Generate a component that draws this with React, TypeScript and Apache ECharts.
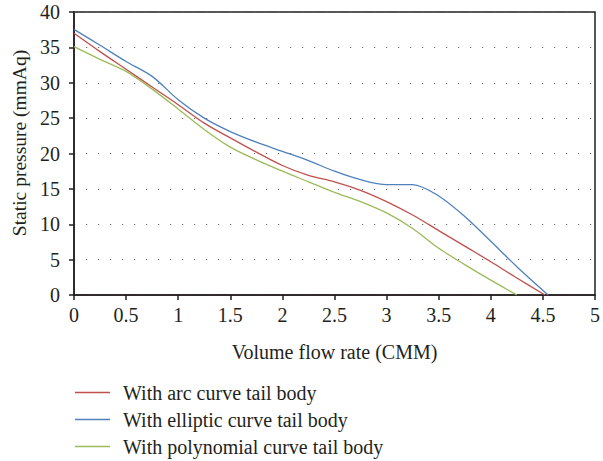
import React, { useEffect, useRef } from "react";
import * as echarts from "echarts";

const xArc = [0, 0.25, 0.5, 0.75, 1.0, 1.25, 1.5, 1.75, 2.0, 2.25, 2.5, 2.75, 3.0, 3.25, 3.5, 3.75, 4.0, 4.25, 4.52];
const yArc = [37.0, 34.4, 31.9, 29.4, 26.9, 24.3, 22.2, 20.2, 18.3, 16.9, 16.0, 14.8, 13.2, 11.3, 9.1, 6.9, 4.7, 2.4, 0];

const xElliptic = [0, 0.25, 0.5, 0.75, 1.0, 1.25, 1.5, 1.75, 2.0, 2.25, 2.5, 2.75, 3.0, 3.25, 3.5, 3.75, 4.0, 4.25, 4.55];
const yElliptic = [37.55, 35.3, 33.0, 30.9, 27.6, 25.0, 23.1, 21.6, 20.3, 19.0, 17.5, 16.3, 15.6, 15.6, 14.0, 11.1, 7.6, 4.0, 0];

const xPoly = [0, 0.25, 0.5, 0.75, 1.0, 1.25, 1.5, 1.75, 2.0, 2.25, 2.5, 2.75, 3.0, 3.25, 3.5, 3.75, 4.0, 4.25];
const yPoly = [35.1, 33.3, 31.6, 29.1, 26.3, 23.4, 20.9, 19.1, 17.5, 16.0, 14.5, 13.2, 11.6, 9.4, 6.6, 4.3, 2.1, 0];

const seriesNames = [
  "With arc curve tail body",
  "With elliptic curve tail body",
  "With polynomial curve tail body",
];
const seriesColors = ["#c0504d", "#4f81bd", "#9bbb59"];

const xTitle = "Volume flow rate (CMM)";
const yTitle = "Static pressure (mmAq)";

const FONT = "'Liberation Serif', 'Times New Roman', serif";
const TEXT = "#231f20";

function pairs(xs: number[], ys: number[]) {
  return xs.map((x, i) => [x, ys[i]]);
}

export default function App() {
  const ref = useRef<HTMLDivElement>(null);
  useEffect(() => {
    if (!ref.current) return;
    const chart = echarts.init(ref.current, undefined, { renderer: "svg" });
    const datasets = [pairs(xArc, yArc), pairs(xElliptic, yElliptic), pairs(xPoly, yPoly)];
    chart.setOption({
      animation: false,
      textStyle: { fontFamily: FONT, color: TEXT },
      grid: {
        left: 74,
        right: 3,
        top: 12,
        bottom: 166,
        show: true,
        borderColor: "#231f20",
        borderWidth: 1.5,
        backgroundColor: "transparent",
        containLabel: false,
      },
      legend: {
        orient: "vertical",
        left: 75,
        top: 379,
        padding: 0,
        icon: "rect",
        itemWidth: 35,
        itemHeight: 1.5,
        itemGap: 0,
        textStyle: {
          fontFamily: FONT,
          fontSize: 20,
          lineHeight: 27,
          color: TEXT,
          padding: [0, 0, 0, 8],
        },
        data: seriesNames,
      },
      graphic: [
        {
          type: "text",
          x: 19,
          y: 143,
          rotation: Math.PI / 2,
          style: {
            text: yTitle,
            fontFamily: FONT,
            fontSize: 19.5,
            fill: TEXT,
            textAlign: "center",
            textVerticalAlign: "middle",
          },
        },
      ],
      xAxis: {
        type: "value",
        min: 0,
        max: 5,
        interval: 0.5,
        name: xTitle,
        nameLocation: "middle",
        nameGap: 47,
        nameTextStyle: { fontFamily: FONT, fontSize: 20, color: TEXT },
        axisLine: { show: true, onZero: false, lineStyle: { color: "#231f20", width: 1.5 } },
        axisTick: { show: true, inside: false, length: 5, lineStyle: { color: "#231f20", width: 1.5 } },
        axisLabel: {
          margin: 10,
          fontFamily: FONT,
          fontSize: 20,
          color: TEXT,
          formatter: (v: number) => String(v),
        },
        splitLine: { show: false },
      },
      yAxis: {
        type: "value",
        min: 0,
        max: 40,
        interval: 5,
        axisLine: { show: true, onZero: false, lineStyle: { color: "#231f20", width: 1.5 } },
        axisTick: { show: true, inside: false, length: 5, lineStyle: { color: "#231f20", width: 1.5 } },
        axisLabel: { margin: 14, fontFamily: FONT, fontSize: 20, color: TEXT },
        splitLine: {
          show: true,
          lineStyle: { color: "#6d6d6d", width: 1.2, type: [1.2, 10.8] },
        },
      },
      series: seriesNames.map((name, i) => ({
        name,
        type: "line",
        data: datasets[i],
        smooth: 0.3,
        symbol: "none",
        lineStyle: { color: seriesColors[i], width: 1.3 },
        itemStyle: { color: seriesColors[i] },
      })),
    });
    return () => chart.dispose();
  }, []);
  return (
    <div
      ref={ref}
      style={{ position: "fixed", left: 0, top: 0, width: 603, height: 461, background: "#fff" }}
    />
  );
}
